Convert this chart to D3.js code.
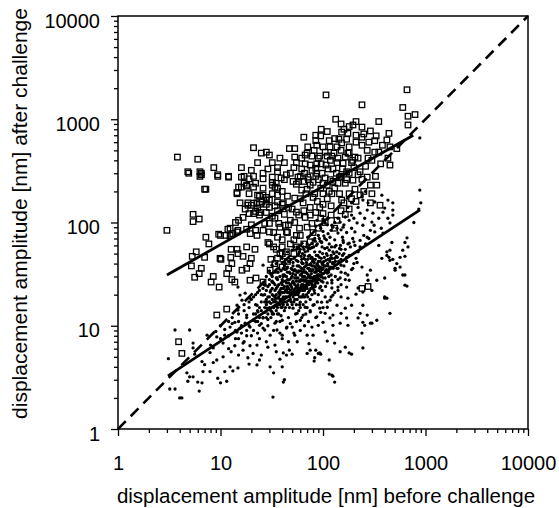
<!DOCTYPE html>
<html>
<head>
<meta charset="utf-8">
<script src="https://cdn.jsdelivr.net/npm/d3@7/dist/d3.min.js"></script>
<style>
  body { margin: 0; background: #fff; }
  text { font-family: "Liberation Sans", Arial, sans-serif; fill: #000; }
</style>
</head>
<body>
<svg width="559" height="508" id="mainsvg"></svg>
<script>
// tick labels (both axes are log, 1 .. 10000)
const xTicks = [1, 10, 100, 1000, 10000];
const yTicks = [1, 10, 100, 1000, 10000];

// [before, after] in nm, open squares
const squares = [
  [3.8,430],[6.0,410],[4.8,310],[6.3,310],[6.5,290],[8.6,340],[9.4,290],[12,280],[7.2,210],[21,530],
  [25,470],[28,480],[30,450],[23,380],[20,320],[16,340],[17,280],[18,230],[16,220],[14.5,195],
  [19,190],[24,180],[28,175],[5.4,120],[5.4,102],[6.2,108],[3.0,84],[10,75],[7.2,72],[11.8,86],
  [12.4,75],[13.2,78],[14.8,84],[15,105],[16.6,112],[19,122],[22,128],[23,138],[18.5,147],[21,154],
  [24,150],[28,165],[32,190],[34,220],[32,245],[36,310],
  [107,1720],[660,1930],[240,1380],[600,1300],[675,1070],[790,1110],[675,880],[133,1000],[350,950],[210,950],
  [196,880],[240,840],[96,800],[160,800],[152,750],[175,730],[290,770],[440,730],[65,670],[95,690],
  [210,700],[240,670],[330,690],[85,620],[115,620],[143,640],[170,640],[420,630],[71,540],[87,560],
  [100,540],[117,540],[137,540],[152,590],[240,560],[180,540],[270,500],[320,480],[450,540],[525,520],
  [53,520],[47,520],[53,430],[67,450],[78,440],[93,440],[110,440],[122,440],[175,470],[205,430],
  [190,380],[220,420],[275,420],[350,480],[430,420],[365,370],[450,360],[67,370],[75,360],[87,370],
  [96,370],[107,360],[137,380],[157,375],[52,340],
  [4.9,300],[6.5,300],[6.3,280],[9.4,280],[12,275],[16,275],[21,280],[26,265],[32,275],[39,270],
  [44,290],[19,265],[17,240],[7.0,210],[14.5,190],[15,220],[18,225],[21,220],[23,184],[26,184],
  [32,230],[35,240],[36,215],[40,200],[36,184],[15.5,155],[18.5,155],[20,147],[22.7,155],[25.4,158],
  [28,150],[30,140],[36,158],[41,155],[46,140],[17.4,135],[21,122],[24,118],[14,100],[12.4,88],
  [14.5,81],[18,86],[19.5,78],[22,84],[22.7,75],[26,84],[30,98],[34,110],[37,98],[30,81],
  [36,72],[43,94],[44,81],[9.6,77],[11.3,75],[7.7,62],[12.7,55],[14.5,55],[18,58],[21.7,55],
  [5.8,52],[29,64],[33,58],[40,58],[44,52],[38,50],[14.8,50],
  [5.3,47],[7.0,46],[9.9,45],[12.6,46],[16.6,47],[20,45],[5.2,38],[6.5,36],[6.2,32],[5.6,29.5],
  [8.5,30],[8.1,26.5],[9.7,23.7],[10.1,44],[12.9,40],[12,36],[11.5,32],[16.2,34.5],[18,36],[19.4,40],
  [12.9,28],[13.8,26.5],[19.4,27.6],[22.2,29],[26,26.5],[30.5,34.5],[34,40],[40,37],[31,44],[36,45],
  [11.5,14.5],[9.2,12.7],[3.9,7.0],[4.2,5.4],
  [230,310],[270,275],[325,280],[196,257],[240,262],[290,230],[335,230],[180,190],[205,210],[300,190],
  [360,147],[290,155],[180,135],[145,190],[152,165],[100,122],[137,105],[122,190],[100,190],[83,190],
  [75,230],[62,206],[51,250],[57,275],[71,275],[87,300],[105,270],[125,250],[145,275],[170,310],
  [53,172],[64,155],[75,140],[93,140],[55,126],[67,112],[53,100],[59,88],[78,98],[55,75],
  [240,23],[275,24],
  [48,300],[42,260],[55,235],[60,280],[65,250],[70,210],[80,245],[90,260],[95,215],[110,230],
  [115,200],[130,215],[140,240],[60,170],[68,190],[80,175],[88,160],[100,150],[110,170],[120,145],
  [45,180],[40,150],[50,135],[58,118],[65,130],[75,118],[85,125],[95,110],[105,100],[48,105],
  [42,120],[38,90],[45,80],[52,68],[60,75],[70,90],[80,80],[90,88],[36,130],[32,115],
  [28,125],[46,95],[55,58],[65,62],[75,65],[48,62],[40,68],[33,80],[150,130],[165,120],
  [120,118],[130,88],[160,155],[190,170],[210,160],[230,185],[250,200],[170,260],[155,330],[125,330],
  [85,335],[62,330],[36,340],[42,380],[26,300],[29,330],[32,380],[38,420],[22,240],[26,215],
  [30,165],[34,145],[27,98],[24,125],[20,95],[45,42],[52,50],[35,55],[30,62],[40,50],
  [55,380],[62,420],[70,470],[82,500],[90,420],[105,480],[118,400],[128,470],[140,420],[150,500],
  [165,430],[180,470],[195,400],[112,330],[98,300],[78,320],[66,300],[58,250],[72,260],[85,280],
  [100,240],[118,260],[135,300],[150,280],[165,240],[180,300],[200,340],[220,290],[260,350],[300,400],
  [280,600],[320,620],[380,560],[210,600],[130,650],[110,760],[180,850],[150,900],[250,720],[85,700]
];

// [before, after] in nm, small filled dots
const dots = [
  [3.1,4.8],[3.6,2.44],[3.2,2.44],[4.0,2.0],[4.2,2.0],[4.7,3.5],[5.0,3.2],[4.8,2.9],[5.4,3.2],[5.4,6.1],
  [5.6,5.3],[6.6,4.5],[6.0,2.85],[6.6,2.8],[6.2,2.33],[7.0,4.2],[6.75,3.6],[7.9,3.6],[7.9,5.5],[8.5,4.4],
  [9.2,4.66],[9.4,3.1],[10,2.8],[11,3.6],[11.5,2.9],[10.6,5.0],[12.4,4.0],[13.2,3.65],[12.7,5.6],[14.8,3.9],
  [15,5.2],[16.6,5.8],[18.5,4.9],[20.8,5.4],[19,4.25],[22.7,4.17],[24,4.66],[25,5.2],[29,6.2],[30.5,4.0],
  [33,3.5],[32.5,2.04],[35,5.6],[41,2.85],[38,4.75],[44,5.2],[13.8,6.4],[16.6,6.8],[19.4,6.4],[22.7,6.5],
  [10.6,6.8],[8.5,6.1],[5.4,6.8],[3.6,9.1],[5.0,9.1],
  [7.4,8.1],[9.2,7.8],[11,8.1],[12.4,9.7],[13.8,10.8],[14.5,8.7],[15.5,9.5],[17.4,10.6],[19.4,9.7],[20.8,11.3],
  [18,12.7],[14.8,14.2],[14.5,15.8],[16.2,17.7],[17.4,20.7],[19.4,18.5],[14.8,23.7],[15.5,19.8],[22.7,15.8],[23.2,13.6],
  [26,11.9],[24,10.1],[27,9.1],[30.5,8.1],[35.6,9.1],[40,8.1],[34,10.6],[40,11.3],[44.5,9.7],[28.4,14.8],
  [31.8,13.6],[35.6,15.8],[40,15.1],[28.4,16.9],[26,19.8],[30.5,21.2],[34,19],[38,20.7],[40.7,18.5],[44.5,23],
  [27.2,24.7],[31.8,26.5],[35.6,29],[40,26.5],[30.5,32.3],[36.4,33],[40.7,31],[31.8,38.6],[40,41],[44.5,36],
  [26,38.6],
  [240,37],[290,34.5],[270,31],[275,27.6],[335,27.6],[400,29],[505,34.5],[630,31],[660,24.2],[375,45],
  [440,46],[480,44],[565,46],[525,40],[220,23.2],[210,20.2],[245,21.2],[300,22],[420,18.5],[170,23.7],
  [180,27.6],[147,29],[165,32.3],[195,36],[215,41],[140,23.7],[122,23.2],[125,19.8],[150,19],[175,18.5],
  [190,15.8],[165,14.8],[137,15.8],[117,17.7],[105,19],[110,15.1],[93,14.8],[97,16.9],[80,15.8],[75,13.6],
  [87,12.2],[105,13.2],[125,12.7],[150,13.2],[170,11.9],[147,10.6],[125,10.1],[117,11.9],[100,10.8],[90,10.1],
  [78,9.7],[80,8.1],[105,8.7],[125,8.1],[175,10.1],[230,13.2],[245,15.8],[270,12.7],[220,11.9],[255,10.1],
  [300,10.6],[335,11.3],[400,18.5],[450,13.2],[240,8.5],[64,12.7],[60,11.3],[56,13.2],[50,9.7],[53,8.1],
  [70,8.1],[51,14.8],[67,15.1],[60,16.9],[71,19],[83,20.7],[93,23.2],[80,23.7],[64,23.2],[56,20.7],
  [75,29],[100,26.5],[122,27.6],[110,32.3],[137,36],[150,38.6],[125,41],[170,46],[100,38.6],[87,34.5],
  [56,7.0],[50,5.3],[73,6.7],[70,5.4],[85,5.8],[90,5.4],[95,5.3],[82,4.55],[110,7.1],[130,6.8],
  [115,4.66],[147,5.6],[165,6.2],[190,5.3],[245,6.1],[115,3.4],[125,3.25],[130,2.85],
  [630,24.7],[600,31],[565,37],[505,36],[450,43],[420,48],[630,47],[400,19],[290,10.6],[245,10.8],
  [180,5.45],[122,3.33],[93,5.45],[83,4.9],[75,5.8],[42,3.0],[40,4.0],[41,5.45],[47,5.8],
  [880,206],[900,155],[860,135],[770,100],[660,71],[630,64],[480,155],[430,110],[385,126],[350,110],
  [307,123],[300,101],[270,132],[255,110],[230,123],[245,94],[320,81],[385,79],[270,72],[230,67],
  [205,81],[215,99],[180,105],[190,118],[165,113],[147,101],[157,90],[137,88],[122,94],[112,110],
  [105,99],[93,94],[87,105],[375,184],[320,158],[275,155],[245,165],[190,155],[175,140],[480,118],
  [450,99],[600,54],[470,64],[420,52],[117,72],[140,79],[157,67],[180,63],[130,58],[110,57],
  [97,64],[83,70],[71,72],[64,58],[78,57],[56,58],[50,54],[880,660],
  [480,132],[675,58],[450,54],[350,60],[290,84],[315,94],[370,88],[400,138],[430,165],
  [25,14],[27,17],[28,12],[30,15],[30,19],[31,22],[32,13],[33,17],[34,25],[35,14],
  [35,20],[36,28],[37,16],[38,22],[38,11],[40,18],[40,25],[41,30],[42,14],[42,21],
  [43,35],[44,17],[45,24],[45,28],[46,12],[47,19],[48,32],[48,22],[50,16],[50,26],
  [51,38],[52,20],[53,29],[54,13],[55,24],[55,34],[56,18],[57,42],[58,27],[58,21],
  [60,15],[60,31],[61,24],[62,36],[63,19],[64,28],[65,45],[66,22],[67,33],[68,17],
  [70,26],[70,39],[72,21],[73,30],[74,48],[75,18],[76,35],[78,25],[79,42],[80,29],
  [82,22],[83,52],[85,33],[86,27],[88,40],[90,20],[91,31],[92,46],[95,24],[96,36],
  [98,58],[100,29],[102,42],[105,34],[108,50],[110,26],[112,38],[115,62],[118,45],[120,31],
  [125,52],[128,40],[130,68],[135,47],[140,36],[145,56],[150,44],[155,72],[160,50],[40,45],
  [45,52],[52,58],[60,55],[70,62],[80,68],[90,75],[100,82],[35,40],[30,34],[28,30],
  [26,26],[24,22],[22,20],[22,16],[20,18],[21,13],[19,15],[18,12],[17,14],[23,11],
  [26,9.5],[29,10],[33,9],[38,8.5],[44,9.5],[48,10.5],[55,11],[62,12],[68,13],[75,14],
  [82,16],[88,17],[52,45],[58,50],[64,40],[72,56],[78,46],[86,60],[94,66],[104,70],
  [112,78],[120,84],[66,48],[42,38],[36,33],[32,27],[29,24],[27,20],[46,42],[50,35],
  [56,38],[62,44],[43,27],[37,19],[32,18],[58,14],[64,16],[70,15],[78,20],[84,24],
  [92,28],[98,22],[106,24],[114,30],[122,26],[132,30],[140,28],[150,33],[160,38],[170,42],
  [180,48],[16,10],[18,9],[20,8],[15,11],[14,9],[13,10.5],[12,8],[11,9.2],[15,7.5],
  [17,7],[24,7.5],[28,7],[34,6.5],[40,7.5],[46,7],[52,8.5],[60,9],[66,10],[72,11],
  [85,12],[95,13.5],[100,15],[110,17],[120,19],[130,21],[140,22],[150,25],[165,28],[175,31],
  [190,35],[200,40],[210,45],[220,52],[230,58],[260,62],[280,70],[250,75],[200,65],[190,88],
  [170,80],[160,95],[150,85],[140,110],[130,100],[125,90],[110,95],[100,108],[95,88],[85,92],
  [200,110],[220,140],[240,180],[260,200],
  [26,12],[27,15],[28,18],[29,13],[30,17],[31,14],[32,20],[33,15],[34,18],[34,22],
  [35,17],[36,24],[36,13],[37,21],[38,18],[39,26],[39,15],[40,21],[41,16],[41,27],
  [42,24],[43,19],[44,30],[44,22],[45,16],[46,26],[47,21],[47,33],[48,18],[49,24],
  [49,29],[50,21],[51,32],[52,26],[52,17],[53,35],[54,23],[55,29],[56,21],[57,33],
  [57,25],[58,38],[59,19],[60,27],[61,34],[62,23],[62,41],[63,30],[64,25],[65,35],
  [66,19],[67,28],[68,38],[69,24],[70,32],[71,44],[72,27],[73,36],[74,22],[75,30],
  [76,40],[77,26],[78,34],[80,23],[81,38],[82,30],[84,44],[85,26],[86,36],[88,31],
  [89,48],[90,38],[92,34],[94,42],[96,30],[98,40],[100,36],[103,46],[106,38],[109,33],
  [112,44],[116,36],[120,48],[124,40],[130,45],[136,52],[142,42],[148,60],[155,48],[165,55],
  [175,62],[185,58],[195,70],[205,60],
  [12,6],[14,7.5],[16,8.5],[18,8],[19,10],[21,9],[22,11],[23,8.5],[25,10.5],[10,7.5],
  [9,8.8],[8,6.5],[13,12],[15,13],[17,16],[19,17],[21,19],[23,21],[12,11],[10,10],
  [27,13.5],[28,16],[29,19],[29,11.5],[31,16.5],[31,12],[32,23],[33,13],[33,19.5],[34,15.5],
  [35,23],[35,11],[36,18.5],[36,15],[37,25],[37,13],[38,20],[38,16],[39,23],[39,12.5],
  [40,16.5],[40,28],[41,19],[41,23],[42,17],[42,31],[43,22],[43,15],[44,26],[44,19],
  [45,21],[45,33],[46,17.5],[46,23],[47,28],[47,15],[48,25],[48,20],[49,36],[49,17],
  [50,23],[50,30],[51,19],[51,27],[52,22],[52,34],[53,18],[53,25],[54,31],[54,20],
  [55,27],[55,16],[56,33],[56,24],[57,20],[57,29],[58,23],[58,34],[59,27],[59,16],
  [60,22],[60,37],[61,28],[61,19],[62,25],[62,32],[63,22],[63,40],[64,33],[64,20],
  [65,27],[65,24],[66,37],[66,30],[67,23],[67,44],[68,27],[68,33],[69,20],[69,41],
  [70,29],[70,23],[71,36],[72,31],[72,47],[73,25],[74,34],[74,39],[75,27],[76,45],
  [76,23],[77,32],[78,29],[78,38],[79,24],[80,35],[80,44],[81,27],[82,41],[83,33],
  [83,25],[84,37],[85,30],[86,48],[87,28],[87,39],[88,34],[89,26],[90,42],[90,31],
  [91,36],[92,28],[93,52],[94,37],[95,33],[96,45],[97,27],[98,35],[99,50],[100,41],
  [101,32],[103,38],[104,56],[105,29],[107,43],[108,35],[110,48],[111,40],[113,33],[115,54],
  [117,42],[119,37],[121,58],[123,45],[126,36],[128,50],[132,42],[134,60],[138,46],[144,50],
  [150,55],[158,64],[24,12],[24,15],[25,17],[23,14],[22,13],[25,20],[26,23],[27,25],
  [28,22],[30,25],[30,28],[32,30],[33,26],[34,33],[35,29],[37,36],[38,30],[39,34],
  [41,36],[43,40],[45,37],[47,42],[49,44],[51,41],[53,46],[55,43],[57,48],[59,52],
  [61,47],[63,50],[65,55],[67,52],[69,58],[71,53],[73,60],[75,56],[78,63],[81,58],
  [84,66],[88,62],[92,70],[97,65],[102,74],[108,68]
];

// power-law fits: after = a * before^b, drawn from x0 to x1
const fitSquares = { a: 16.7, b: 0.563, x0: 3.0, x1: 760 };
const fitDots = { a: 1.57, b: 0.654, x0: 3.07, x1: 884 };

const svg = d3.select('#mainsvg');
const margin = { left: 118, right: 31, top: 16, bottom: 79 };
const width = +svg.attr('width');
const height = +svg.attr('height');

const x = d3.scaleLog().domain([1, 10000]).range([margin.left, width - margin.right]);
const y = d3.scaleLog().domain([1, 10000]).range([height - margin.bottom, margin.top]);

const minors = [];
for (let e = 0; e < 4; e++) for (let m = 2; m <= 9; m++) minors.push(m * Math.pow(10, e));

// minor ticks
svg.append('g').attr('transform', `translate(0,${y(1)})`)
  .call(d3.axisBottom(x).tickValues(minors).tickSize(4).tickFormat(''))
  .call(g => g.select('.domain').remove());
svg.append('g').attr('transform', `translate(${x(1)},0)`)
  .call(d3.axisLeft(y).tickValues(minors).tickSize(4).tickFormat(''))
  .call(g => g.select('.domain').remove());

// major ticks + labels
const xAxis = svg.append('g').attr('transform', `translate(0,${y(1)})`)
  .call(d3.axisBottom(x).tickValues(xTicks).tickSize(7).tickPadding(20).tickFormat(d3.format('d')))
  .call(g => g.select('.domain').remove());
const yAxis = svg.append('g').attr('transform', `translate(${x(1)},0)`)
  .call(d3.axisLeft(y).tickValues(yTicks).tickSize(7).tickPadding(11).tickFormat(d3.format('d')))
  .call(g => g.select('.domain').remove());
svg.selectAll('.tick line').attr('stroke', '#000').attr('stroke-width', 1.3);
xAxis.selectAll('text').attr('font-size', 20).attr('font-family', '"Liberation Sans", Arial, sans-serif');
yAxis.selectAll('text').attr('font-size', 20).attr('dy', '0.55em').attr('font-family', '"Liberation Sans", Arial, sans-serif');

// frame
svg.append('rect')
  .attr('x', x(1)).attr('y', y(10000))
  .attr('width', x(10000) - x(1)).attr('height', y(1) - y(10000))
  .attr('fill', 'none').attr('stroke', '#000').attr('stroke-width', 1.5);

// squares
const s = 5.5;
svg.append('g').selectAll('rect').data(squares).join('rect')
  .attr('x', d => x(d[0]) - s / 2).attr('y', d => y(d[1]) - s / 2)
  .attr('width', s).attr('height', s)
  .attr('fill', 'none').attr('stroke', '#000').attr('stroke-width', 1.3);

// dots
svg.append('g').selectAll('circle').data(dots).join('circle')
  .attr('cx', d => x(d[0])).attr('cy', d => y(d[1])).attr('r', 1.65)
  .attr('fill', '#000');

// identity line
svg.append('line')
  .attr('x1', x(1)).attr('y1', y(1)).attr('x2', x(10000)).attr('y2', y(10000))
  .attr('stroke', '#000').attr('stroke-width', 2.6).attr('stroke-dasharray', '11,7');

// regression lines
const line = d3.line().x(d => x(d[0])).y(d => y(d[1]));
[fitSquares, fitDots].forEach(f => {
  const pts = [f.x0, f.x1].map(v => [v, f.a * Math.pow(v, f.b)]);
  svg.append('path').attr('d', line(pts))
    .attr('fill', 'none').attr('stroke', '#000').attr('stroke-width', 2.8);
});

// axis titles
svg.append('text')
  .attr('x', (x(1) + x(10000)) / 2 + 3).attr('y', 503)
  .attr('text-anchor', 'middle').attr('font-size', 20.5)
  .text('displacement amplitude [nm] before challenge');
svg.append('text')
  .attr('transform', `translate(27,${(y(1) + y(10000)) / 2 - 9}) rotate(-90)`)
  .attr('text-anchor', 'middle').attr('font-size', 21)
  .text('displacement amplitude [nm] after challenge');
</script>
</body>
</html>
